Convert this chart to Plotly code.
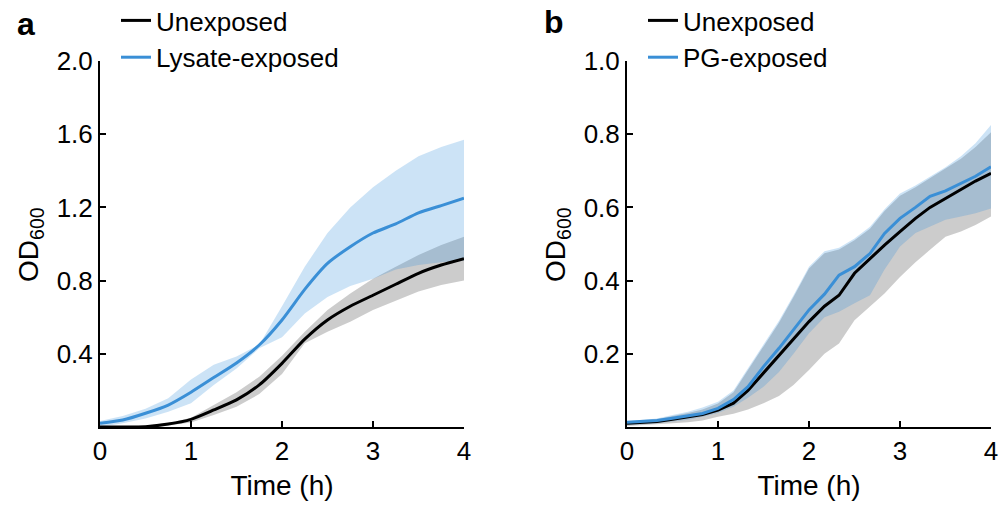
import plotly.graph_objects as go

# ---------------- data ----------------
# Panel a: lysate exposure (time in hours)
time_a = [0, 0.25, 0.5, 0.75, 1.0, 1.25, 1.5, 1.75, 2.0, 2.25, 2.5, 2.75, 3.0, 3.25, 3.5, 3.75, 4.0]
unexp_a_mean = [0.0, 0.0, 0.002, 0.016, 0.042, 0.093, 0.148, 0.23, 0.348, 0.48, 0.585, 0.66, 0.72, 0.78, 0.84, 0.885, 0.92]
unexp_a_upper = [0.003, 0.004, 0.008, 0.022, 0.05, 0.12, 0.19, 0.275, 0.39, 0.52, 0.64, 0.73, 0.81, 0.876, 0.94, 0.995, 1.04]
unexp_a_lower = [0.0, 0.0, 0.0, 0.008, 0.025, 0.066, 0.11, 0.18, 0.29, 0.457, 0.52, 0.575, 0.64, 0.69, 0.74, 0.776, 0.80]
lys_a_mean = [0.02, 0.038, 0.075, 0.12, 0.19, 0.27, 0.35, 0.448, 0.585, 0.752, 0.894, 0.985, 1.06, 1.11, 1.17, 1.21, 1.25]
lys_a_upper = [0.033, 0.06, 0.10, 0.157, 0.26, 0.34, 0.385, 0.45, 0.66, 0.876, 1.06, 1.20, 1.31, 1.40, 1.48, 1.53, 1.57]
lys_a_lower = [0.0, 0.02, 0.047, 0.084, 0.13, 0.23, 0.32, 0.43, 0.49, 0.62, 0.71, 0.77, 0.81, 0.86, 0.885, 0.90, 0.91]

# Panel b: PG exposure
time_b = [0, 0.17, 0.33, 0.5, 0.67, 0.83, 1.0, 1.17, 1.33, 1.5, 1.67, 1.83, 2.0,
          2.17, 2.33, 2.5, 2.67, 2.83, 3.0, 3.17, 3.33, 3.5, 3.67, 3.83, 4.0]
unexp_b_mean = [0.01, 0.012, 0.015, 0.021, 0.027, 0.034, 0.046, 0.065, 0.10, 0.147, 0.195, 0.24, 0.288,
                0.33, 0.36, 0.42, 0.46, 0.497, 0.534, 0.57, 0.60, 0.625, 0.65, 0.672, 0.693]
unexp_b_upper = [0.014, 0.017, 0.021, 0.03, 0.038, 0.048, 0.064, 0.095, 0.155, 0.22, 0.285, 0.355, 0.433,
                 0.475, 0.485, 0.51, 0.542, 0.59, 0.632, 0.655, 0.68, 0.705, 0.733, 0.765, 0.805]
unexp_b_lower = [0.003, 0.005, 0.007, 0.01, 0.013, 0.018, 0.028, 0.036, 0.048, 0.065, 0.085, 0.115, 0.156,
                 0.2, 0.228, 0.292, 0.329, 0.365, 0.41, 0.45, 0.484, 0.52, 0.534, 0.552, 0.575]
pg_b_mean = [0.013, 0.015, 0.018, 0.024, 0.03, 0.037, 0.051, 0.075, 0.11, 0.165, 0.215, 0.265, 0.32,
             0.363, 0.415, 0.438, 0.474, 0.529, 0.57, 0.60, 0.63, 0.645, 0.665, 0.685, 0.711]
pg_b_upper = [0.016, 0.019, 0.023, 0.033, 0.042, 0.053, 0.069, 0.10, 0.16, 0.225, 0.29, 0.36, 0.438,
              0.48, 0.49, 0.515, 0.547, 0.595, 0.638, 0.66, 0.685, 0.71, 0.74, 0.775, 0.825]
pg_b_lower = [0.005, 0.007, 0.01, 0.015, 0.02, 0.028, 0.038, 0.055, 0.08, 0.11, 0.15, 0.20, 0.256,
              0.30, 0.315, 0.338, 0.36, 0.43, 0.493, 0.53, 0.547, 0.566, 0.575, 0.584, 0.597]

x_ticks = [0, 1, 2, 3, 4]
y_ticks_a = [0.4, 0.8, 1.2, 1.6, 2.0]
y_tick_labels_a = ["0.4", "0.8", "1.2", "1.6", "2.0"]
y_ticks_b = [0.2, 0.4, 0.6, 0.8, 1.0]
y_tick_labels_b = ["0.2", "0.4", "0.6", "0.8", "1.0"]

# ---------------- styles ----------------
BLACK = "#000000"
BLUE = "#3a8fd6"
GRAY_FILL = "rgba(0,0,0,0.2)"
BLUE_FILL = "rgba(52,144,220,0.25)"
FONT = "Liberation Sans, Arial, Helvetica, sans-serif"
LW = 3

fig = go.Figure()


def band(x, upper, lower, fill, xa, ya, lg):
    fig.add_trace(go.Scatter(x=x, y=upper, mode="lines", line=dict(width=0, color=fill),
                             showlegend=False, hoverinfo="skip", xaxis=xa, yaxis=ya, legend=lg))
    fig.add_trace(go.Scatter(x=x, y=lower, mode="lines", line=dict(width=0, color=fill),
                             fill="tonexty", fillcolor=fill, showlegend=False,
                             hoverinfo="skip", xaxis=xa, yaxis=ya, legend=lg))


# panel a
band(time_a, unexp_a_upper, unexp_a_lower, GRAY_FILL, "x", "y", "legend")
band(time_a, lys_a_upper, lys_a_lower, BLUE_FILL, "x", "y", "legend")
fig.add_trace(go.Scatter(x=time_a, y=unexp_a_mean, mode="lines", name="Unexposed",
                         line=dict(color=BLACK, width=LW, shape="spline", smoothing=0.6),
                         xaxis="x", yaxis="y", legend="legend"))
fig.add_trace(go.Scatter(x=time_a, y=lys_a_mean, mode="lines", name="Lysate-exposed",
                         line=dict(color=BLUE, width=LW, shape="spline", smoothing=0.6),
                         xaxis="x", yaxis="y", legend="legend"))

# panel b
band(time_b, unexp_b_upper, unexp_b_lower, GRAY_FILL, "x2", "y2", "legend2")
band(time_b, pg_b_upper, pg_b_lower, BLUE_FILL, "x2", "y2", "legend2")
fig.add_trace(go.Scatter(x=time_b, y=unexp_b_mean, mode="lines", name="Unexposed",
                         line=dict(color=BLACK, width=LW),
                         xaxis="x2", yaxis="y2", legend="legend2"))
fig.add_trace(go.Scatter(x=time_b, y=pg_b_mean, mode="lines", name="PG-exposed",
                         line=dict(color=BLUE, width=LW),
                         xaxis="x2", yaxis="y2", legend="legend2"))

W, H = 1001, 510
dom_y = [83 / H, 449 / H]

axis_common = dict(showline=True, linecolor=BLACK, linewidth=2, ticks="inside",
                   ticklen=6, tickwidth=2, tickcolor=BLACK, showgrid=False, zeroline=False,
                   tickfont=dict(family=FONT, size=26, color=BLACK), mirror=False,
                   automargin=False)

legend_common = dict(xanchor="left", yanchor="top", bgcolor="rgba(0,0,0,0)",
                     font=dict(family=FONT, size=26, color=BLACK), itemwidth=30,
                     tracegroupgap=0, traceorder="normal")

title_font = dict(family=FONT, size=28, color=BLACK)

fig.update_layout(
    width=W, height=H,
    margin=dict(l=0, r=0, t=0, b=0, autoexpand=False),
    paper_bgcolor="white", plot_bgcolor="white",
    font=dict(family=FONT, size=26, color=BLACK),
    xaxis=dict(domain=[100 / W, 464 / W], range=[0, 4], tickvals=x_ticks, anchor="y",
               title=dict(text="Time (h)", font=title_font, standoff=10),
               **axis_common),
    yaxis=dict(domain=dom_y, range=[0, 2], tickvals=y_ticks_a, ticktext=y_tick_labels_a,
               anchor="x", **axis_common),
    xaxis2=dict(domain=[627 / W, 991 / W], range=[0, 4], tickvals=x_ticks, anchor="y2",
                title=dict(text="Time (h)", font=title_font, standoff=10),
                **axis_common),
    yaxis2=dict(domain=dom_y, range=[0, 1], tickvals=y_ticks_b, ticktext=y_tick_labels_b,
                anchor="x2", **axis_common),
    legend=dict(x=116 / W, y=1 + 3 / H, **legend_common),
    legend2=dict(x=643 / W, y=1 + 3 / H, **legend_common),
    showlegend=True,
    annotations=[
        dict(text="<b>a</b>", x=26 / W, y=1 - 24 / H, xref="paper", yref="paper",
             xanchor="center", yanchor="middle",
             showarrow=False, font=dict(family=FONT, size=32, color=BLACK)),
        dict(text="<b>b</b>", x=554 / W, y=1 - 22 / H, xref="paper", yref="paper",
             xanchor="center", yanchor="middle",
             showarrow=False, font=dict(family=FONT, size=32, color=BLACK)),
        dict(text="OD<sub>600</sub>", x=30 / W, y=1 - 245 / H, xref="paper", yref="paper",
             xanchor="center", yanchor="middle",
             textangle=-90, showarrow=False, font=title_font),
        dict(text="OD<sub>600</sub>", x=557 / W, y=1 - 245 / H, xref="paper", yref="paper",
             xanchor="center", yanchor="middle",
             textangle=-90, showarrow=False, font=title_font),
    ],
)

fig.write_html("out.html")
